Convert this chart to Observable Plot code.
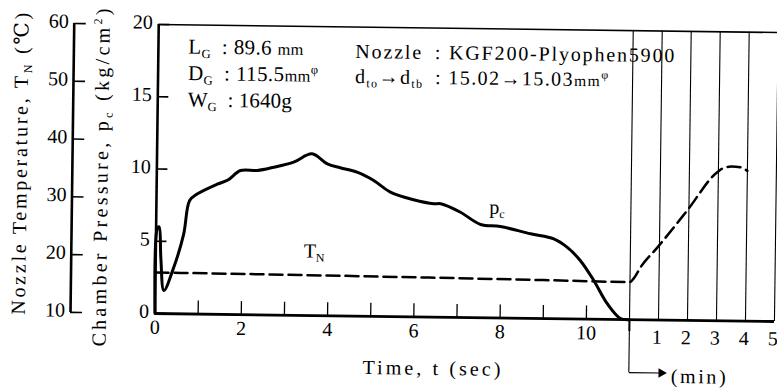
<!DOCTYPE html>
<html>
<head>
<meta charset="utf-8">
<script src="https://cdn.jsdelivr.net/npm/d3@7"></script>
<script src="https://cdn.jsdelivr.net/npm/@observablehq/plot@0.6"></script>
<style>
  html, body { margin: 0; padding: 0; background: #fff; overflow: hidden; }
  #chart svg { display: block; transform: rotate(0.74deg); transform-origin: 154.5px 313px; }
</style>
</head>
<body>
<div id="chart"></div>
<script>
// ---- Chamber pressure p_c (kg/cm^2) against time t (sec) ----
const pcTime  = [0, 0.03, 0.07, 0.12, 0.2, 0.42, 0.64, 0.77, 0.94, 1.4, 1.65, 1.94, 2.33, 2.71, 3.17, 3.59, 3.95, 4.25, 4.64, 5.03, 5.42, 5.96, 6.43, 6.59, 7.05, 7.52, 7.98, 8.68, 9.22, 9.53, 9.84, 10.16, 10.48, 10.79, 11.0];
const pcValue = [0, 5.9, 6.0, 3.8, 1.6, 3.2, 5.5, 7.85, 8.3, 9.0, 9.3, 9.97, 9.99, 10.23, 10.6, 11.19, 10.51, 10.25, 9.96, 9.4, 8.61, 8.1, 7.84, 7.85, 7.28, 6.45, 6.33, 5.85, 5.52, 4.96, 4.05, 2.68, 1.08, 0.07, 0];

// ---- Nozzle temperature T_N (deg C): seconds part, then minutes part ----
const tnSecTime  = [0, 3, 6, 9];
const tnSecValue = [17.1, 17.0, 16.85, 16.65];
const tnMinTime  = [0, 0.15, 0.36, 0.94, 1.94, 2.96, 3.2, 3.45, 3.75, 4.0];
const tnMinValue = [16.5, 17.3, 19.1, 22.6, 29.0, 35.7, 36.5, 36.7, 36.6, 36.0];

// ---- ticks / labels ----
const secTicks  = [0, 1, 2, 3, 4, 5, 6, 7, 8, 9, 10];
const secLabels = [0, 2, 4, 6, 8, 10];
const minLines  = [0, 1, 2, 3, 4, 5];
const minLabels = [1, 2, 3, 4, 5];
const pTicks    = [0, 5, 10, 15, 20];
const tTicks    = [10, 20, 30, 40, 50, 60];

// ---- texts ----
const titleTemp = "Nozzle Temperature, T_{N} (℃)";
const titlePres = "Chamber Pressure, p_{c} (kg/cm^{2})";
const titleTime = "Time, t (sec)";
const titleMin  = "(min)";
const infoLeft  = ["L_{G}\u2002: 89.6 ~{mm}", "D_{G}\u2002: 115.5~{mm}^{φ}", "W_{G}\u2002: 1640g"];
const infoRight = ["Nozzle\u2002: KGF200-Plyophen5900", "d_{to}→d_{tb}\u2002: 15.02→15.03~{mm}^{φ}"];
const labelTN = "T_{N}";
const labelPC = "p_{c}";

// broken time axis: after 11 s the axis continues in minutes
const BREAK = 11, MIN_UNIT = 0.672;
const xOfMin = m => BREAK + m * MIN_UNIT;
// temperature axis (10..60 C) shares the frame with the pressure axis (0..20)
const yOfT = T => (T - 10) * 0.4;

const pcData = pcTime.map((t, i) => ({x: t, y: pcValue[i]}));
const tnData = [
  ...tnSecTime.map((t, i) => ({x: t, y: yOfT(tnSecValue[i])})),
  ...tnMinTime.map((m, i) => ({x: xOfMin(m), y: yOfT(tnMinValue[i])}))
];

const FS = 20;
const marks = [
  // frame pieces
  Plot.ruleY([20], {insetRight: -3, strokeWidth: 1.6}),
  Plot.ruleX(minLines, {x: xOfMin, y1: 20, y2: 0, strokeWidth: 1.1}),
  Plot.ruleX([0], {x: xOfMin, y1: 0, y2: 0, insetBottom: -53, strokeWidth: 1.1}),
  Plot.ruleX([0], {x: xOfMin, y1: 0, y2: 0, insetBottom: -12, strokeWidth: 2}),
  Plot.link([0], {x1: xOfMin, x2: () => xOfMin(1.08), y1: 0, y2: 0, dy: 53, strokeWidth: 1.1}),
  Plot.dot([1.12], {x: xOfMin, y: 0, dy: 53, symbol: "triangle", rotate: 90, r: 3.6, fill: "black", stroke: null}),
  Plot.ruleX([0], {y1: 20, y2: 0, strokeWidth: 2.6}),
  Plot.ruleX([0], {y1: 20, y2: 0, dx: -84.5, strokeWidth: 2.6}),
  Plot.ruleY([0], {x1: 0, x2: xOfMin(5), strokeWidth: 2.8}),

  // tick marks (pointing inward)
  Plot.axisY(pTicks, {anchor: "left", tickSize: -11, text: null, label: null, strokeWidth: 1.6}),
  Plot.axisY(tTicks.map(yOfT), {anchor: "left", tickSize: -12, text: null, label: null, dx: -84.5, strokeWidth: 1.6}),
  Plot.axisX(secTicks, {anchor: "bottom", tickSize: -13, text: null, label: null, strokeWidth: 1.3}),

  // tick labels
  Plot.text(pTicks, {x: 0, y: d => d, text: d => String(d), textAnchor: "end", dx: -6, dy: -2, fontSize: FS}),
  Plot.text(tTicks, {x: 0, y: yOfT, text: d => String(d), textAnchor: "end", dx: -90, dy: -2, fontSize: FS}),
  Plot.text(secLabels, {x: d => d, y: 0, text: d => String(d), dy: 14, fontSize: FS}),
  Plot.text(minLabels, {x: xOfMin, y: 0, text: d => String(d), dy: 17.5, dx: -1.5, fontSize: FS}),

  // axis titles
  Plot.text([titleTemp], {frameAnchor: "left", textAnchor: "middle", lineAnchor: "middle", rotate: -90, dx: -136.5, dy: -3.5, fontSize: FS}),
  Plot.text([titlePres], {frameAnchor: "left", textAnchor: "middle", lineAnchor: "middle", rotate: -90, dx: -55.5, dy: 9.2, fontSize: FS}),
  Plot.text([titleTime], {frameAnchor: "bottom", textAnchor: "middle", lineAnchor: "middle", dx: -32.5, dy: 51.4, fontSize: FS}),
  Plot.text([titleMin], {frameAnchor: "bottom-right", textAnchor: "start", lineAnchor: "middle", dx: -103, dy: 56.4, fontSize: FS}),

  // series
  Plot.line(tnData, {x: "x", y: "y", strokeWidth: 2.5, strokeDasharray: "13,6", curve: "monotone-x"}),
  Plot.line(pcData, {x: "x", y: "y", strokeWidth: 3, curve: "catmull-rom"}),

  // series labels
  Plot.text([labelTN], {x: 3.43, y: 4.0, textAnchor: "start", lineAnchor: "bottom", fontSize: FS}),
  Plot.text([labelPC], {x: 7.72, y: 7.2, textAnchor: "start", lineAnchor: "bottom", fontSize: FS}),

  // info block
  ...infoLeft.map((s, i) => Plot.text([s], {frameAnchor: "top-left", textAnchor: "start", lineAnchor: "bottom", dx: 30, dy: 28.6 + i * 26.5, fontSize: FS + 1})),
  ...infoRight.map((s, i) => Plot.text([s], {frameAnchor: "top-left", textAnchor: "start", lineAnchor: "bottom", dx: 197, dy: 31 + i * 25, fontSize: FS}))
];

const plot = Plot.plot({
  width: 777,
  height: 389,
  marginLeft: 154.5,
  marginRight: 3,
  marginTop: 24,
  marginBottom: 76,
  x: {domain: [0, xOfMin(5)], axis: null},
  y: {domain: [0, 20], axis: null},
  style: {fontFamily: '"Liberation Serif", "DejaVu Serif", serif', fontSize: FS + "px", color: "black", background: "white", overflow: "visible"},
  marks
});

// stretched, widely spaced typesetting of the original (target widths in px)
const textWidths = new Map([
  [titleTemp, 302], [titlePres, 338], [titleTime, 138], [titleMin, 55],
  [infoLeft[0], 115], [infoLeft[1], 130], [infoLeft[2], 104],
  [infoRight[0], 319], [infoRight[1], 253]
]);

// rich text: _{sub}, ^{sup}, ~{small}
const svgNS = "http://www.w3.org/2000/svg";
function richText(el) {
  const s = el.textContent;
  if (textWidths.has(s)) {
    el.setAttribute("textLength", textWidths.get(s));
    el.setAttribute("lengthAdjust", "spacing");
  }
  if (!/[_^~]\{/.test(s)) return;
  const fs = parseFloat(el.getAttribute("font-size")) || parseFloat(el.parentNode.getAttribute("font-size")) || FS;
  el.textContent = "";
  let shift = 0, last = 0, m;
  const re = /([_^~])\{([^}]*)\}/g;
  const add = (txt, kind) => {
    const t = document.createElementNS(svgNS, "tspan");
    const target = kind === "_" ? 0.2 * fs : kind === "^" ? -0.38 * fs : 0;
    if (target - shift !== 0) t.setAttribute("dy", (target - shift).toFixed(2));
    shift = target;
    if (kind === "_" || kind === "^") t.setAttribute("font-size", (0.6 * fs).toFixed(1));
    if (kind === "~") t.setAttribute("font-size", (0.78 * fs).toFixed(1));
    t.textContent = txt;
    el.appendChild(t);
  };
  while ((m = re.exec(s))) {
    if (m.index > last) add(s.slice(last, m.index), "");
    add(m[2], m[1]);
    last = re.lastIndex;
  }
  if (last < s.length) add(s.slice(last), "");
}
plot.querySelectorAll("text").forEach(richText);

document.getElementById("chart").appendChild(plot);
</script>
</body>
</html>
